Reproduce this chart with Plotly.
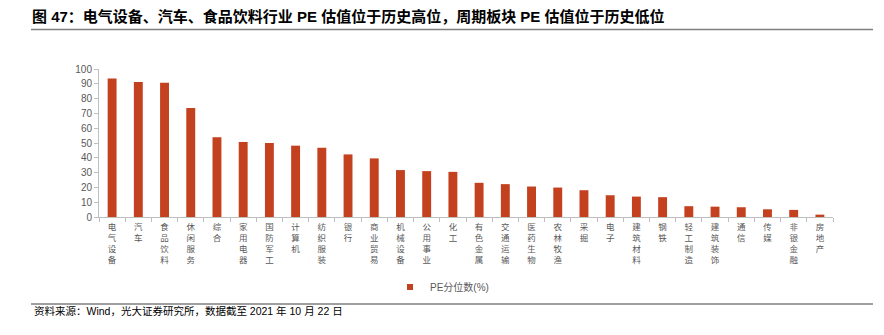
import plotly.graph_objects as go

categories = ["电气设备", "汽车", "食品饮料", "休闲服务", "综合", "家用电器", "国防军工", "计算机",
              "纺织服装", "银行", "商业贸易", "机械设备", "公用事业", "化工", "有色金属", "交通运输",
              "医药生物", "农林牧渔", "采掘", "电子", "建筑材料", "钢铁", "轻工制造", "建筑装饰",
              "通信", "传媒", "非银金融", "房地产"]
pe_pct = [93.6, 91.2, 90.7, 73.7, 53.9, 50.7, 50.0, 48.2,
          46.8, 42.3, 39.6, 31.7, 31.0, 30.5, 23.1, 22.2,
          20.6, 19.9, 18.1, 14.7, 13.8, 13.4, 7.3, 7.0,
          6.6, 5.2, 4.8, 1.6]
y_ticks = [0, 10, 20, 30, 40, 50, 60, 70, 80, 90, 100]
series_name = "PE分位数(%)"
title_text = "图 47：电气设备、汽车、食品饮料行业 PE 估值位于历史高位，周期板块 PE 估值位于历史低位"
source_text = "资料来源：Wind，光大证券研究所，数据截至 2021 年 10 月 22 日"

BAR = "#C4411F"
GRAY = "#595959"
AX = "#BFBFBF"
FONT = "Noto Sans CJK SC, Noto Sans, sans-serif"
MIX = "Liberation Sans, Noto Sans CJK SC, sans-serif"

W, H = 884, 335
ML, MR, MT, MB = 99, 51, 69, 118
PW, PH = W - ML - MR, H - MT - MB

def px_x(px):
    return (px - ML) / PW

def px_y(py):
    return (H - MB - py) / PH

tick_text = ["<br>".join(list(c)) for c in categories]

fig = go.Figure()
fig.add_trace(go.Bar(x=categories, y=pe_pct, marker=dict(color=BAR, line=dict(width=0)),
                     showlegend=False, name=series_name))
fig.add_trace(go.Scatter(x=[None], y=[None], mode="markers", name=series_name,
                         marker=dict(symbol="square", size=6, color=BAR)))

fig.update_layout(
    width=W, height=H,
    margin=dict(l=ML, r=MR, t=MT, b=MB, pad=0),
    paper_bgcolor="white", plot_bgcolor="white",
    font=dict(family=FONT, color=GRAY, size=10),
    bargap=0.66,
    title=dict(text="<b>" + title_text + "</b>", xref="container", yref="container",
               x=32 / W, xanchor="left", y=1 - 17 / H, yanchor="middle",
               font=dict(family=MIX, size=15, color="#000000")),
    xaxis=dict(
        tickmode="array", tickvals=categories, ticktext=tick_text,
        tickangle=0, tickfont=dict(size=8.5, color=GRAY),
        showline=True, linecolor=AX, linewidth=1,
        ticks="outside", tickson="boundaries", ticklen=4, tickcolor=AX,
        ticklabelstandoff=2,
        showgrid=False, zeroline=False, fixedrange=True,
    ),
    yaxis=dict(
        range=[0, 100], tickmode="array", tickvals=y_ticks,
        tickfont=dict(family="Liberation Sans, Arial, sans-serif", size=10, color=GRAY),
        showline=True, linecolor=AX, linewidth=1,
        ticks="outside", ticklen=4, tickcolor=AX,
        showgrid=False, zeroline=False,
    ),
    legend=dict(orientation="h", x=px_x(390), y=px_y(287), xanchor="left", yanchor="middle",
                font=dict(family=MIX, size=10, color=GRAY), bgcolor="rgba(0,0,0,0)"),
    annotations=[dict(text=source_text, xref="paper", yref="paper", x=px_x(32), y=px_y(311),
                      xanchor="left", yanchor="middle", showarrow=False,
                      font=dict(family=MIX, size=10.5, color="#000000"))],
    shapes=[
        dict(type="line", xref="paper", yref="paper", x0=px_x(31), x1=px_x(873),
             y0=px_y(29.5), y1=px_y(29.5), line=dict(color="#7F7F7F", width=1.5)),
        dict(type="line", xref="paper", yref="paper", x0=px_x(31), x1=px_x(873),
             y0=px_y(304), y1=px_y(304), line=dict(color="#7F7F7F", width=1.5)),
    ],
)

fig.write_html("out.html")
